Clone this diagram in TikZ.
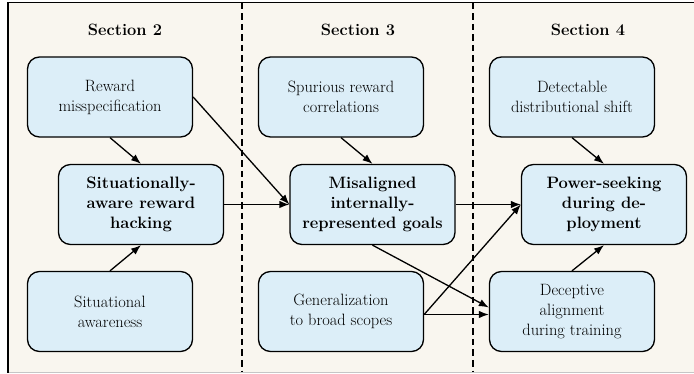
\documentclass[tikz,border=0pt]{standalone}
\usetikzlibrary{arrows.meta}
\definecolor{bgcream}{RGB}{249,246,239}
\definecolor{boxblue}{RGB}{220,238,248}
\begin{document}
\begin{tikzpicture}[x=1pt,y=-1pt,
  box/.style={draw, line width=1.3pt, rounded corners=12pt, fill=boxblue, minimum width=165pt, minimum height=80pt, align=center, inner sep=2pt, font=\fontsize{16.4}{20}\selectfont},
  bbox/.style={box, font=\fontsize{16.5}{20}\selectfont\bfseries},
  arr/.style={-{Latex[length=10pt,width=7.5pt]}, line width=1.3pt},
  sepline/.style={line width=1.5pt, dash pattern=on 6.5pt off 4pt},
  hdr/.style={font=\fontsize{16.4}{20}\selectfont\bfseries, inner sep=0pt}]
\useasboundingbox (0,0) rectangle (694,374);
\fill[bgcream] (8,2.5) rectangle (694,372.5);
\draw[gray!45, line width=1pt] (8,372.5) -- (694,372.5);
\draw[line width=1.5pt] (8,372.5) -- (8,2.5) -- (694,2.5);
% separators
\coordinate (d1t) at (242,3);
\coordinate (d1b) at (242,372);
\coordinate (d2t) at (473,3);
\coordinate (d2b) at (473,372);
\draw[sepline] (d1t) -- (d1b);
\draw[sepline] (d2t) -- (d2b);
% headers
\node[hdr] (s2) at (125,30) {Section 2};
\node[hdr] (s3) at (358,30) {Section 3};
\node[hdr] (s4) at (588,30) {Section 4};
% boxes
\node[box] (rm) at (110,97) {Reward\\misspecification};
\node[bbox] (sarh) at (141,204.5) {Situationally-\\aware reward\\hacking};
\node[box] (sa) at (110,311.5) {Situational\\awareness};
\node[box] (sp) at (341,97) {Spurious reward\\correlations};
\node[bbox] (mis) at (372.5,204.5) {Misaligned\\internally-\\represented goals};
\node[box] (gen) at (341,311.5) {Generalization\\to broad scopes};
\node[box] (det) at (572,97) {Detectable\\distributional shift};
\node[bbox] (ps) at (604,204.5) {Power-seeking\\during de-\\ployment};
\node[box] (da) at (572,311.5) {Deceptive\\alignment\\during training};
% arrows
\draw[arr] (rm.south) -- (sarh.north);
\draw[arr] (sa.north) -- (sarh.south);
\draw[arr] (sarh.east) -- (mis.west);
\draw[arr] (rm.east) -- (mis.west);
\draw[arr] (sp.south) -- (mis.north);
\draw[arr] (mis.east) -- (ps.west);
\draw[arr] (det.south) -- (ps.north);
\draw[arr] (da.north) -- (ps.south);
\draw[arr] (mis.south) -- ([yshift=4pt]da.west);
\draw[arr] ([yshift=-3pt]gen.east) -- ([yshift=-3pt]da.west);
\draw[arr] ([yshift=-3pt]gen.east) -- (ps.west);
\end{tikzpicture}
\end{document}
